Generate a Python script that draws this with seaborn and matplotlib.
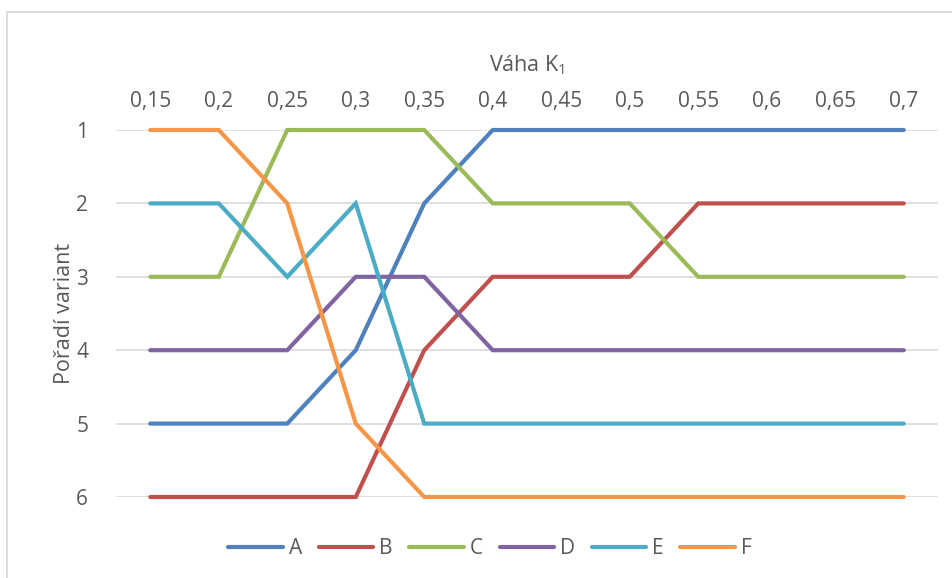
import matplotlib
matplotlib.use("Agg")
import matplotlib.pyplot as plt
from matplotlib.patches import Rectangle
import seaborn as sns
import pandas as pd

# Weight values of criterion K1 (category axis) and ranking of each variant
weights = ["0,15", "0,2", "0,25", "0,3", "0,35", "0,4", "0,45", "0,5", "0,55", "0,6", "0,65", "0,7"]
rank_A = [5, 5, 5, 4, 2, 1, 1, 1, 1, 1, 1, 1]
rank_B = [6, 6, 6, 6, 4, 3, 3, 3, 2, 2, 2, 2]
rank_C = [3, 3, 1, 1, 1, 2, 2, 2, 3, 3, 3, 3]
rank_D = [4, 4, 4, 3, 3, 4, 4, 4, 4, 4, 4, 4]
rank_E = [2, 2, 3, 2, 5, 5, 5, 5, 5, 5, 5, 5]
rank_F = [1, 1, 2, 5, 6, 6, 6, 6, 6, 6, 6, 6]
variants = ["A", "B", "C", "D", "E", "F"]
colors = ["#4F81BD", "#C0504D", "#9BBB59", "#8064A2", "#4BACC6", "#F79646"]

ranks = [rank_A, rank_B, rank_C, rank_D, rank_E, rank_F]
rows = []
for name, vals in zip(variants, ranks):
    for i, v in enumerate(vals):
        rows.append({"pos": i, "rank": v, "varianta": name})
df = pd.DataFrame(rows)

sns.set_theme(style="white")
plt.rcParams["font.family"] = ["Open Sans", "DejaVu Sans"]
plt.rcParams["mathtext.fontset"] = "custom"
plt.rcParams["mathtext.rm"] = "Open Sans"
plt.rcParams["mathtext.it"] = "Open Sans"
text_color = "#595959"

fig = plt.figure(figsize=(9.53, 5.78), dpi=100)
fig.patches.append(Rectangle((7 / 953, -0.05), 1.2, 1 - 12 / 578 + 0.05,
                             transform=fig.transFigure, fill=False,
                             edgecolor="#D9D9D9", linewidth=1.3))
ax = fig.add_axes([116 / 953, 1 - 497 / 578, (938 - 116) / 953, (497 - 130) / 578])

sns.lineplot(data=df, x="pos", y="rank", hue="varianta", palette=colors,
             hue_order=variants, linewidth=3.0, ax=ax, legend=True, sort=False)
for line in ax.lines:
    line.set_solid_capstyle("round")
    line.set_solid_joinstyle("miter")
    line.set_clip_on(False)
    line.set_zorder(3)

ax.set_xlim(-0.5, len(weights) - 0.5)
ax.set_ylim(6, 1)
ax.set_xticks(range(len(weights)))
ax.set_xticklabels(weights)
ax.set_yticks([1, 2, 3, 4, 5, 6])
ax.xaxis.tick_top()
ax.xaxis.set_label_position("top")
ax.tick_params(axis="x", length=0, pad=13, labelsize=15, colors=text_color)
ax.tick_params(axis="y", length=0, pad=20, labelsize=15, colors=text_color)
ax.grid(axis="y", color="#D9D9D9", linewidth=1.2)
ax.set_axisbelow(True)
for s in ax.spines.values():
    s.set_visible(False)

ax.set_xlabel("Váha K$_\\mathrm{1}$", fontsize=15.5, color=text_color, labelpad=14)
ax.set_ylabel("Pořadí variant", fontsize=15.5, color=text_color, labelpad=1)

leg = fig.legend(handles=ax.get_legend().legend_handles,
                 labels=[t.get_text() for t in ax.get_legend().get_texts()],
                 loc="center", bbox_to_anchor=(490 / 953, 1 - 549 / 578),
                 ncol=6, frameon=False, fontsize=15, handlelength=2.6,
                 handletextpad=0.3, columnspacing=0.8, labelcolor=text_color)
ax.get_legend().remove()
for h in leg.get_lines():
    h.set_linewidth(3.0)
    h.set_solid_capstyle("round")

fig.savefig("out.png", dpi=100)
